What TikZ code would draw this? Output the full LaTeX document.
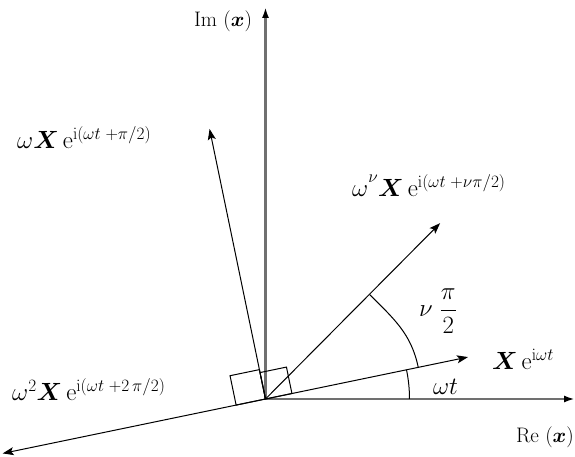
\documentclass[tikz,border=0pt]{standalone}
\usepackage{bm}
\usetikzlibrary{arrows.meta}
\definecolor{axisgray}{RGB}{112,112,112}
\begin{document}
\begin{tikzpicture}[x=1pt,y=1pt,
  axis/.style={draw=axisgray, line width=2.2pt, -{Latex[length=11pt,width=7pt,color=black]}},
  vec/.style={draw=black, line width=1pt, -{Stealth[length=11pt,width=8pt,inset=2.5pt]}},
  thinline/.style={draw=black, line width=1pt},
  lab/.style={font=\fontsize{23}{27}\selectfont, inner sep=0pt},
  axlab/.style={font=\fontsize{21}{25}\selectfont, inner sep=0pt}]
\useasboundingbox (-265.5,-58) rectangle (309.5,399);
\coordinate (O) at (0,0);
\coordinate (ImEnd) at (0,392);
\coordinate (ReEnd) at (309.5,0);
\coordinate (Xt) at (11.7:206.8);
\coordinate (Vt) at (45.2:247.8);
\coordinate (Wt) at (101.7:275.8);
\coordinate (W2t) at (191.7:268.4);
\coordinate (wtB) at (11.7:144);
\coordinate (nuA) at (45:147.5);
\coordinate (nuB) at (11.7:156);
% axes
\draw[axis] (O) -- (ImEnd);
\draw[axis] (O) -- (ReEnd);
% right-angle boxes
\draw[thinline, rotate=11.7] (0,0) rectangle (27,27);
\draw[thinline, rotate=101.7] (0,0) rectangle (30,30);
% arcs
\draw[thinline] (wtB) arc[start angle=11.7, end angle=0, radius=144];
\draw[thinline] (nuA) to[out=-45, in=101.7, looseness=1] (nuB);
% vectors
\draw[vec] (O) -- (Xt);
\draw[vec] (O) -- (Vt);
\draw[vec] (O) -- (Wt);
\draw[vec] (O) -- (W2t);
% labels
\node[axlab] (imlab) at (-42.5,378) {Im ($\bm{x}$)};
\node[axlab] (relab) at (279.5,-38.5) {Re ($\bm{x}$)};
\node[lab] (wtlab) at (180,12) {$\omega t$};
\node[lab] (xlab) at (257.5,40) {$\bm{X}\,\mathrm{e}^{\mathrm{i}\omega t}$};
\node[lab] (nulab) at (172.5,88) {$\nu\ \displaystyle\frac{\pi}{2}$};
\node[lab, anchor=base west] (vlab) at (86.5,202) {$\omega^{\raisebox{5pt}{$\scriptstyle\nu$}}\bm{X}\,\mathrm{e}^{\mathrm{i}(\omega t\;{+}\nu\pi/2)}$};
\node[lab, anchor=base west] (wlab) at (-248.5,250) {$\omega\bm{X}\,\mathrm{e}^{\mathrm{i}(\omega t\;{+}\pi/2)}$};
\node[lab, anchor=base west] (w2lab) at (-253.5,-2) {$\omega^2\bm{X}\,\mathrm{e}^{\mathrm{i}(\omega t\;{+}2\,\pi/2)}$};
\end{tikzpicture}
\end{document}
